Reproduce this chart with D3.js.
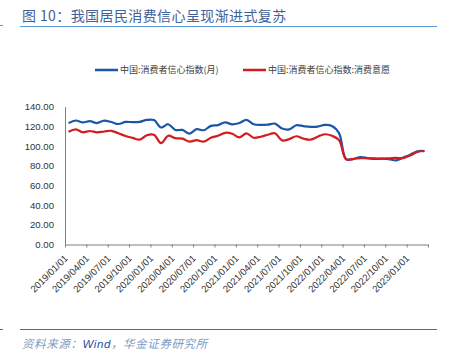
<!DOCTYPE html>
<html>
<head>
<meta charset="utf-8">
<script src="https://cdn.jsdelivr.net/npm/d3@7"></script>
<style>
  body { margin: 0; background: #fff; }
  svg { display: block; font-family: "Liberation Sans", Arial, "Noto Sans CJK SC", sans-serif; }
</style>
</head>
<body>
<svg id="chart"></svg>
<script>
// monthly categories, 2019/01 .. 2023/03
let months = [
  "2019/01","2019/02","2019/03","2019/04","2019/05","2019/06","2019/07","2019/08","2019/09","2019/10","2019/11","2019/12",
  "2020/01","2020/02","2020/03","2020/04","2020/05","2020/06","2020/07","2020/08","2020/09","2020/10","2020/11","2020/12",
  "2021/01","2021/02","2021/03","2021/04","2021/05","2021/06","2021/07","2021/08","2021/09","2021/10","2021/11","2021/12",
  "2022/01","2022/02","2022/03","2022/04","2022/05","2022/06","2022/07","2022/08","2022/09","2022/10","2022/11","2022/12",
  "2023/01","2023/02","2023/03"
];

// 中国:消费者信心指数(月)
let confidence = [
  123.3, 126.0, 124.1, 125.3, 123.4, 125.9, 124.4, 122.4, 124.5, 124.3, 124.6, 126.6,
  126.4, 118.9, 122.2, 116.4, 116.4, 112.6, 117.2, 116.1, 120.5, 121.3, 124.0, 122.1,
  123.5, 126.6, 122.2, 121.5, 121.8, 122.8, 117.8, 117.0, 121.2, 120.2, 119.5, 119.8,
  121.5, 120.5, 113.2, 86.7, 86.8, 88.9, 87.9, 87.0, 87.2, 86.8, 85.5, 88.3,
  91.2, 94.7, 94.9
];

// 中国:消费者信心指数:消费意愿
let willingness = [
  114.5, 117.0, 114.0, 115.3, 114.0, 114.8, 115.5, 113.0, 110.3, 108.3, 106.5, 111.0,
  111.5, 103.0, 110.5, 108.0, 107.5, 104.5, 106.0, 104.5, 108.5, 110.5, 113.5, 112.5,
  108.8, 113.0, 108.5, 109.5, 111.5, 113.0, 105.8, 107.0, 110.0, 107.5, 106.5, 109.5,
  112.0, 110.5, 106.0, 86.5, 87.0, 87.8, 87.5, 87.5, 87.2, 87.5, 88.0, 87.8,
  90.5, 94.0, 95.0
];

let tickLabels = [
  "2019/01/01","2019/04/01","2019/07/01","2019/10/01","2020/01/01","2020/04/01","2020/07/01","2020/10/01",
  "2021/01/01","2021/04/01","2021/07/01","2021/10/01","2022/01/01","2022/04/01","2022/07/01","2022/10/01","2023/01/01"
];

let yTicks = [0, 20, 40, 60, 80, 100, 120, 140];

let seriesNames = ["中国:消费者信心指数(月)", "中国:消费者信心指数:消费意愿"];
let seriesColors = ["#1c56a6", "#d21c22"];

function makeChart() {
  let W = 461, H = 358;
  let svg = d3.select('#chart').attr('width', W).attr('height', H);

  // title + rules
  svg.append('text')
      .attr('x', 22).attr('y', 21)
      .attr('font-size', 14).attr('letter-spacing', 0.4)
      .attr('fill', '#3f629a')
      .style('font-family', '"Noto Sans CJK SC", "Liberation Sans", sans-serif')
      .text('图 10：我国居民消费信心呈现渐进式复苏');
  svg.append('line').attr('x1', 20).attr('x2', 437).attr('y1', 26.5).attr('y2', 26.5)
      .attr('stroke', '#5b9bd5').attr('stroke-width', 1);
  svg.append('line').attr('x1', 0).attr('x2', 3).attr('y1', 25.5).attr('y2', 25.5)
      .attr('stroke', '#5b9bd5').attr('stroke-width', 1);

  let scX = d3.scaleLinear().domain([0, months.length]).range([65, 428]);
  let scY = d3.scaleLinear().domain([0, 140]).range([244.5, 106.7]);

  // y axis
  let yAxis = svg.append('g').attr('transform', 'translate(65,0)')
      .call(d3.axisLeft(scY).tickValues(yTicks).tickSize(0).tickPadding(11)
          .tickFormat(d3.format('.2f')));
  yAxis.select('.domain').attr('stroke', '#7f7f7f');
  yAxis.selectAll('text').attr('font-size', 9.6).attr('fill', '#333')
      .style('font-family', '"Liberation Sans", Arial, sans-serif');

  // x axis: ticks on category boundaries, one every quarter
  let tickIdx = d3.range(0, months.length + 1, 3);
  let xAxis = svg.append('g').attr('transform', 'translate(0,244.5)')
      .call(d3.axisBottom(scX).tickValues(tickIdx).tickSize(3).tickSizeOuter(0)
          .tickFormat(i => tickLabels[i / 3] || ''));
  xAxis.select('.domain').attr('stroke', '#7f7f7f');
  xAxis.selectAll('line').attr('stroke', '#7f7f7f');
  xAxis.selectAll('text')
      .attr('font-size', 9.6).attr('fill', '#333')
      .style('font-family', '"Liberation Sans", Arial, sans-serif')
      .attr('text-anchor', 'end')
      .attr('dy', 0).attr('y', 0)
      .attr('transform', 'translate(3,14.5) rotate(-45)');

  // lines
  let line = d3.line()
      .x((d, i) => scX(i + 0.5))
      .y(d => scY(d))
      .curve(d3.curveCatmullRom.alpha(0.5));

  [confidence, willingness].forEach((data, k) => {
    svg.append('path').datum(data)
        .attr('d', line)
        .attr('fill', 'none')
        .attr('stroke', seriesColors[k])
        .attr('stroke-width', 2.2);
  });

  // legend
  let legX = [95, 243];
  seriesNames.forEach((name, k) => {
    let g = svg.append('g').attr('transform', `translate(${legX[k]},70)`);
    g.append('line').attr('x1', 0).attr('x2', 23).attr('y1', 0).attr('y2', 0)
        .attr('stroke', seriesColors[k]).attr('stroke-width', 2.5);
    g.append('text').attr('x', 25).attr('y', 3.3)
        .attr('font-size', 9).attr('fill', '#404040')
        .style('font-family', '"Noto Sans CJK SC", sans-serif')
        .text(name);
  });

  // source
  svg.append('line').attr('x1', 20).attr('x2', 437).attr('y1', 329.5).attr('y2', 329.5)
      .attr('stroke', '#2e75b6').attr('stroke-width', 1);
  svg.append('line').attr('x1', 0).attr('x2', 3).attr('y1', 329.5).attr('y2', 329.5)
      .attr('stroke', '#2e75b6').attr('stroke-width', 1);
  let src = svg.append('text').attr('x', 22).attr('y', 348)
      .attr('font-size', 11.5).attr('font-style', 'italic').attr('letter-spacing', 0.6)
      .style('font-family', '"Noto Sans CJK SC", "Liberation Sans", sans-serif');
  src.append('tspan').attr('fill', '#7d9bc6').text('资料来源：');
  src.append('tspan').attr('fill', '#1f4e9c').style('font-family', '"Liberation Sans", Arial, sans-serif').text('Wind');
  src.append('tspan').attr('fill', '#7d9bc6').text('，华金证券研究所');
}

makeChart();
</script>
</body>
</html>
